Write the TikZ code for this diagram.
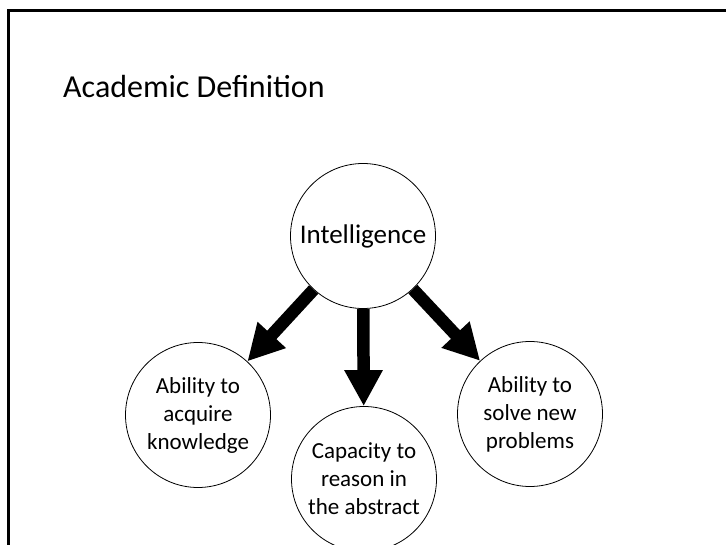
\documentclass[tikz,border=0pt]{standalone}
\usepackage{fontspec}
\setmainfont{Carlito}
\usetikzlibrary{arrows.meta}

\tikzset{
  bubble/.style={draw, circle, line width=0.8pt, minimum size=145pt, inner sep=0pt,
                 align=center, font=\fontsize{23}{28}\selectfont},
  bigarrow/.style={line width=12.5pt, -{Triangle[length=36pt,width=36pt]}}
}

\begin{document}
\begin{tikzpicture}[x=1pt, y=-1pt]
        \useasboundingbox (0,0) rectangle (726,545);
        \draw [line width=2.5pt]    (8.5,545) -- (8.5,10.3) -- (726,10.3);   %frame
        \node [anchor=base west, inner sep=0pt, font=\fontsize{32}{38}\selectfont] (title)
              at (63,98) {Academic Definition};                              %title

        \node [bubble, font=\fontsize{27}{32}\selectfont] (intel) at (363,236) {Intelligence};
        \node [bubble] (acquire)  at (198,415) {Ability to\\acquire\\knowledge};
        \node [bubble] (abstract) at (364,479) {Capacity to\\reason in\\the abstract};
        \node [bubble] (solve)    at (530,414) {Ability to\\solve new\\problems};

        \draw [bigarrow] (intel) -- (acquire);                               %left
        \draw [bigarrow] (intel) -- (abstract);                              %middle
        \draw [bigarrow] (intel) -- (solve);                                 %right
\end{tikzpicture}
\end{document}
